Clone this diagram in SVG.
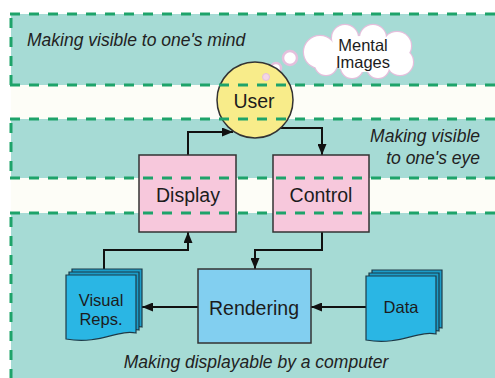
<svg xmlns="http://www.w3.org/2000/svg" width="495" height="378" viewBox="0 0 495 378">
  <style>
    .teal { fill: #a6dbd5; }
    .white { fill: #fdfdf7; }
    .dash { stroke: #1ea36a; stroke-width: 3; stroke-dasharray: 10 9; fill: none; }
    .band { font-family: "Liberation Sans", Arial, sans-serif; font-style: italic; font-size: 17.5px; fill: #222; }
    .lbl { font-family: "Liberation Sans", Arial, sans-serif; font-size: 19.5px; fill: #1c1c1c; text-anchor: middle; }
    .lbl2 { font-family: "Liberation Sans", Arial, sans-serif; font-size: 16.5px; fill: #1c1c1c; text-anchor: middle; }
    .pink { fill: #f7c8dc; stroke: #333; stroke-width: 1.5; }
    .rend { fill: #82cff0; stroke: #333; stroke-width: 1.5; }
    .docf { fill: #2ab6e4; stroke: #1d3a48; stroke-width: 1.2; }
    .docb { fill: #1b9cc8; stroke: #1d3a48; stroke-width: 1.2; }
    .conn { stroke: #111; stroke-width: 2; fill: none; }
    .cloudedge { fill: #fff; stroke: #e4bfdc; stroke-width: 2.5; }
    .cloudfill { fill: #fff; }
  </style>
  <defs>
    <marker id="arr" markerUnits="userSpaceOnUse" markerWidth="11" markerHeight="9" refX="11" refY="4.5" orient="auto">
      <path d="M0,0 L11,4.5 L0,9 Z" fill="#111"/>
    </marker>
    <path id="doc" d="M0,0 H70 V58 C52,54 34,70 0,64 Z"/>
  </defs>

  <g id="background">
    <rect x="0" y="0" width="495" height="378" fill="#ffffff"/>
    <rect class="teal" x="11" y="14" width="484" height="71"/>
    <rect class="white" x="11" y="85" width="484" height="34"/>
    <rect class="teal" x="11" y="119" width="484" height="59"/>
    <rect class="white" x="11" y="178" width="484" height="35"/>
    <rect class="teal" x="11" y="213" width="484" height="165"/>
  </g>

  <g id="band-labels">
    <text class="band" x="27" y="46">Making visible to one's mind</text>
    <text class="band" x="480" y="142" text-anchor="end">Making visible</text>
    <text class="band" x="480" y="164" text-anchor="end">to one's eye</text>
    <text class="band" x="256" y="368" text-anchor="middle">Making displayable by a computer</text>
  </g>

  <g id="connectors">
    <path class="conn" d="M188,155 V132 H233" marker-end="url(#arr)"/>
    <path class="conn" d="M280,128 H322 V155" marker-end="url(#arr)"/>
    <path class="conn" d="M322,232 V250 H255 V269" marker-end="url(#arr)"/>
    <path class="conn" d="M104,270 V250 H188 V232" marker-end="url(#arr)"/>
    <path class="conn" d="M198,307 H142" marker-end="url(#arr)"/>
    <path class="conn" d="M366,307 H311" marker-end="url(#arr)"/>
  </g>

  <g id="mental-images">
    <g>
      <circle class="cloudedge" cx="320" cy="52" r="16"/>
      <circle class="cloudedge" cx="345" cy="38" r="13"/>
      <circle class="cloudedge" cx="373" cy="38" r="13"/>
      <circle class="cloudedge" cx="397" cy="46" r="14"/>
      <circle class="cloudedge" cx="400" cy="62" r="13"/>
      <circle class="cloudedge" cx="378" cy="67" r="11"/>
      <circle class="cloudedge" cx="352" cy="67" r="11"/>
      <circle class="cloudedge" cx="326" cy="64" r="11"/>
      <circle class="cloudfill" cx="320" cy="52" r="16"/>
      <circle class="cloudfill" cx="345" cy="38" r="13"/>
      <circle class="cloudfill" cx="373" cy="38" r="13"/>
      <circle class="cloudfill" cx="397" cy="46" r="14"/>
      <circle class="cloudfill" cx="400" cy="62" r="13"/>
      <circle class="cloudfill" cx="378" cy="67" r="11"/>
      <circle class="cloudfill" cx="352" cy="67" r="11"/>
      <circle class="cloudfill" cx="326" cy="64" r="11"/>
      <ellipse class="cloudfill" cx="362" cy="54" rx="38" ry="18"/>
    </g>
    <circle class="cloudedge" cx="290" cy="58" r="7"/>
    <circle class="cloudedge" cx="276" cy="68" r="5"/>
    <text class="lbl2" x="363" y="50.5">Mental</text>
    <text class="lbl2" x="363" y="67.5">Images</text>
  </g>

  <g id="user">
    <circle cx="255" cy="100" r="38" fill="#f8ec8a" stroke="#333" stroke-width="1.5"/>
    <circle cx="266" cy="77" r="3.5" fill="#f3d6e6" stroke="#e4bfdc" stroke-width="1"/>
    <text class="lbl" x="254" y="108">User</text>
  </g>

  <g id="display">
    <rect class="pink" x="139" y="155" width="97" height="77"/>
    <text class="lbl" x="188" y="202">Display</text>
  </g>

  <g id="control">
    <rect class="pink" x="273" y="155" width="96" height="77"/>
    <text class="lbl" x="321" y="202">Control</text>
  </g>

  <g id="rendering">
    <rect class="rend" x="198" y="269" width="113" height="74"/>
    <text class="lbl" x="254" y="315">Rendering</text>
  </g>

  <g id="visual-reps">
    <use href="#doc" class="docb" x="72" y="269"/>
    <use href="#doc" class="docb" x="69" y="272"/>
    <use href="#doc" class="docf" x="66" y="275"/>
    <text class="lbl2" x="101" y="306" font-size="17">Visual</text>
    <text class="lbl2" x="101" y="325" font-size="17">Reps.</text>
  </g>

  <g id="data">
    <use href="#doc" class="docb" x="372" y="270"/>
    <use href="#doc" class="docb" x="369" y="273"/>
    <use href="#doc" class="docf" x="366" y="276"/>
    <text class="lbl2" x="401" y="313" font-size="17">Data</text>
  </g>

  <g id="band-borders">
    <line class="dash" x1="10" y1="14" x2="495" y2="14"/>
    <line class="dash" x1="10" y1="85" x2="495" y2="85"/>
    <line class="dash" x1="10" y1="119" x2="495" y2="119"/>
    <line class="dash" x1="10" y1="178" x2="495" y2="178"/>
    <line class="dash" x1="10" y1="213" x2="495" y2="213"/>
    <line class="dash" x1="11" y1="18" x2="11" y2="85"/>
    <line class="dash" x1="11" y1="123" x2="11" y2="178"/>
    <line class="dash" x1="11" y1="217" x2="11" y2="378"/>
  </g>
</svg>
